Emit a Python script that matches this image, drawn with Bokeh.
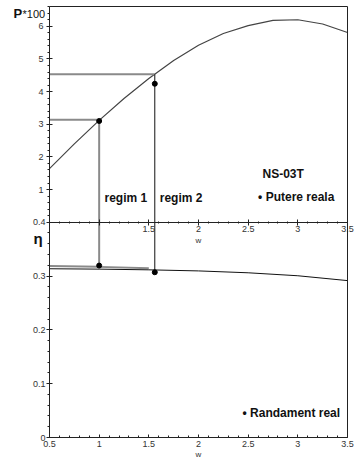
from bokeh.plotting import figure
from bokeh.models import Range1d, LinearAxis, FixedTicker, Label
from bokeh.embed import file_html
from bokeh.resources import INLINE

# ---------------- data ----------------
w_curve = [0.5, 0.75, 1.0, 1.25, 1.5, 1.75, 2.0, 2.25, 2.5, 2.75, 3.0, 3.25, 3.5]
p_curve = [1.64, 2.40, 3.12, 3.79, 4.40, 4.95, 5.42, 5.78, 6.02, 6.18, 6.20, 6.07, 5.81]

w_eta = [0.5, 1.0, 1.5, 2.0, 2.5, 3.0, 3.5]
eta_curve = [0.3135, 0.3128, 0.3115, 0.3095, 0.306, 0.3005, 0.2915]
w_eta_upper = [0.5, 1.0, 1.5]
eta_upper = [0.3185, 0.317, 0.3145]

regim_w = [1.0, 1.56]          # operating speeds
regim_p = [3.14, 4.53]         # power on curve (P*100)
p_real = [3.10, 4.24]          # measured power (P*100)
eta_real = [0.3194, 0.307]     # measured efficiency

x_ticks = [0.5, 1, 1.5, 2, 2.5, 3, 3.5]
x_tick_labels = ["0.5", "1", "1.5", "2", "2.5", "3", "3.5"]
mid_tick_labels = ["", "", "1.5", "2", "2.5", "3", "3.5"]
eta_ticks = [0, 0.1, 0.2, 0.3, 0.4]
eta_tick_labels = ["0", "0.1", "0.2", "0.3", "0.4"]
p_ticks = [1, 2, 3, 4, 5, 6]
p_tick_labels = ["1", "2", "3", "4", "5", "6"]

FONT = "Liberation Sans"
TXT = "#333333"
LINE = "#222222"

W, H = 354, 458
# frame covers the whole canvas; plot boxes are drawn by fixed-location axes
XPX = 298 / 3.0                     # px per unit of w
x0 = 0.5 - 49 / XPX
x1 = 3.5 + (W - 347) / XPX
EPX = 215.3 / 0.4                   # px per unit of eta
e0 = 0 - (H - 437) / EPX
e1 = 0.4 + 221.7 / EPX
PPX = 32.65                          # px per unit of P*100
p1 = 221.7 / PPX
p0 = -(H - 221.7) / PPX

p = figure(width=W, height=H, output_backend="svg", toolbar_location=None,
           tools="", x_range=Range1d(x0, x1), y_range=Range1d(e0, e1),
           x_axis_location=None, y_axis_location=None,
           min_border=0, min_border_left=0, min_border_right=0,
           min_border_top=0, min_border_bottom=0)
p.extra_y_ranges = {"P": Range1d(p0, p1)}
p.xgrid.visible = False
p.ygrid.visible = False
p.outline_line_color = None
p.background_fill_color = "white"
p.border_fill_color = "white"


def style(ax, tin, tout, min_in, min_out, standoff):
    ax.axis_line_color = LINE
    ax.major_tick_line_color = LINE
    ax.minor_tick_line_color = LINE
    ax.major_tick_in = tin
    ax.major_tick_out = tout
    ax.minor_tick_in = min_in
    ax.minor_tick_out = min_out
    ax.major_label_standoff = standoff
    ax.major_label_text_font = FONT
    ax.major_label_text_font_size = "9px"
    ax.major_label_text_color = TXT
    ax.axis_label_text_font = FONT
    ax.axis_label_text_font_size = "8px"
    ax.axis_label_text_font_style = "normal"
    ax.axis_label_text_color = TXT
    ax.axis_label_standoff = 0


x_minor = [round(0.5 + i * 0.1, 1) for i in range(31)]

# bottom x axis (eta plot)
xa = LinearAxis(fixed_location=0, bounds=(0.5, 3.5), axis_label="w",
                ticker=FixedTicker(ticks=x_ticks, minor_ticks=x_minor),
                major_label_overrides=dict(zip(x_ticks, x_tick_labels)))
style(xa, 3, 0, 2, 0, 3)
p.add_layout(xa, "below")

# middle x axis (bottom of P plot)
ma = LinearAxis(fixed_location=0.4, bounds=(0.5, 3.5), axis_label="w",
                ticker=FixedTicker(ticks=x_ticks, minor_ticks=x_minor),
                major_label_overrides=dict(zip(x_ticks, mid_tick_labels)))
style(ma, 3, 3, 1, 1, 1)
p.add_layout(ma, "below")

# eta axis (left, bottom half)
ya = LinearAxis(fixed_location=0.5, bounds=(0, 0.4),
                ticker=FixedTicker(ticks=eta_ticks,
                                   minor_ticks=[round(i * 0.02, 2) for i in range(21)]),
                major_label_overrides=dict(zip(eta_ticks, eta_tick_labels)))
style(ya, 3, 3, 0, 2, 1)
p.add_layout(ya, "left")

# P axis (left, top half)
pa = LinearAxis(y_range_name="P", fixed_location=0.5, bounds=(0, 6.6),
                ticker=FixedTicker(ticks=p_ticks,
                                   minor_ticks=[round(i * 0.2, 1) for i in range(34)]),
                major_label_overrides=dict(zip(p_ticks, p_tick_labels)))
style(pa, 3, 3, 0, 2, 3)
p.add_layout(pa, "left")

# frame borders: top and right
top = LinearAxis(y_range_name="P", fixed_location=6.6, bounds=(0.5, 3.5),
                 ticker=FixedTicker(ticks=[]), major_tick_line_color=None,
                 minor_tick_line_color=None, axis_line_color=LINE)
p.add_layout(top, "above")
for rng, b in (("default", (0, 0.4)), ("P", (0, 6.6))):
    r = LinearAxis(y_range_name=rng, fixed_location=3.5, bounds=b,
                   ticker=FixedTicker(ticks=[]), major_tick_line_color=None,
                   minor_tick_line_color=None, axis_line_color=LINE)
    p.add_layout(r, "right")

# ---------------- glyphs ----------------
GRAY = "#8a8a8a"
p.line(w_curve, p_curve, y_range_name="P", line_color="#444444", line_width=1.2)
p.segment(x0=[0.5, 0.5], y0=regim_p, x1=regim_w, y1=regim_p, y_range_name="P",
          line_color=GRAY, line_width=2)
p.segment(x0=regim_w, y0=regim_p, x1=regim_w, y1=[0, 0], y_range_name="P",
          line_color=[GRAY, "#111111"], line_width=[2, 1])
p.segment(x0=regim_w, y0=[0.4, 0.4], x1=regim_w, y1=eta_real,
          line_color=[GRAY, "#111111"], line_width=[2, 1])
p.line(w_eta_upper, eta_upper, line_color=GRAY, line_width=2)
p.line(w_eta, eta_curve, line_color="#111111", line_width=1)
p.scatter(regim_w, p_real, y_range_name="P", size=5, color="#000000")
p.scatter(regim_w, eta_real, size=5, color="#000000")


def lab(x, y, text, rng="default", size="12px", style_="bold", **kw):
    l = Label(x=x, y=y, text=text, y_range_name=rng, text_font=FONT,
              text_font_size=size, text_font_style=style_, text_color="#111111",
              text_baseline="middle", **kw)
    p.add_layout(l)


lab(2.644, 1.49, "NS-03T", rng="P")
lab(2.60, 0.77, "\u2022 Putere reala", rng="P")
lab(1.054, 0.726, "regim 1", rng="P")
lab(1.61, 0.726, "regim 2", rng="P")
lab(2.443, 0.045, "\u2022 Randament real")
lab(0.5, 6.6, "P", rng="P", size="13px", x_offset=-36, y_offset=-7)
lab(0.5, 6.6, "*100", rng="P", size="11px", style_="normal", x_offset=-27, y_offset=-7)
lab(0.5, 0.3697, "\u03b7", size="15px", x_offset=-16)

open("out.html", "w").write(file_html(p, INLINE))
